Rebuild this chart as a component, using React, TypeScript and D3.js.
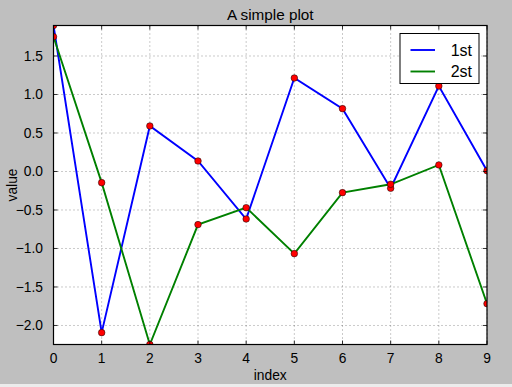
import React from "react";
import * as d3 from "d3";

const indices = [0, 1, 2, 3, 4, 5, 6, 7, 8, 9];
const series1 = [1.896, -2.093, 0.591, 0.136, -0.617, 1.214, 0.816, -0.218, 1.11, 0.01];
const series2 = [1.75, -0.145, -2.247, -0.69, -0.47, -1.067, -0.275, -0.166, 0.085, -1.717];
const seriesNames = ["1st", "2st"];
const seriesColors = ["#0000ff", "#008000"];
const xTicks = [0, 1, 2, 3, 4, 5, 6, 7, 8, 9];
const yTicks = [-2.0, -1.5, -1.0, -0.5, 0.0, 0.5, 1.0, 1.5];
const title = "A simple plot";
const xLabel = "index";
const yLabel = "value";

const W = 512;
const H = 387;
const L = 53.5, R = 487, T = 25.5, B = 344.5;
const FONT = "'Liberation Sans', Arial, Helvetica, sans-serif";

export default function App() {
  const allVals = [...series1, ...series2];
  const x = d3.scaleLinear().domain([0, 9]).range([L, R]);
  const y = d3.scaleLinear().domain([d3.min(allVals)!, d3.max(allVals)!]).range([B, T]);
  const fmt = d3.format(".1f");
  const line = d3
    .line<number>()
    .x((_, i) => x(indices[i]))
    .y((d) => y(d));
  const data = [series1, series2];
  const tickLen = 4;

  return (
    <svg
      width={W}
      height={H}
      style={{ position: "absolute", left: 0, top: 0, display: "block" }}
      fontFamily={FONT}
    >
      <rect x={0} y={0} width={W} height={H} fill="#bfbfbf" />
      <rect x={0} y={384} width={W} height={3} fill="#ececec" />
      <defs>
        <clipPath id="plotclip">
          <rect x={L} y={T} width={R - L} height={B - T} />
        </clipPath>
      </defs>
      <rect x={L} y={T} width={R - L} height={B - T} fill="#ffffff" />
      {/* grid */}
      <g stroke="#000" strokeOpacity={0.6} strokeWidth={0.7} strokeDasharray="1,3">
        {xTicks.map((t) => (
          <line key={"gx" + t} x1={x(t)} x2={x(t)} y1={T} y2={B} />
        ))}
        {yTicks.map((t) => (
          <line key={"gy" + t} x1={L} x2={R} y1={y(t)} y2={y(t)} />
        ))}
      </g>
      {/* lines and markers */}
      <g clipPath="url(#plotclip)">
        {data.map((s, k) => (
          <path key={"l" + k} d={line(s) || ""} fill="none" stroke={seriesColors[k]} strokeWidth={1.9} />
        ))}
        {data.map((s, k) =>
          s.map((v, i) => (
            <circle
              key={"m" + k + "-" + i}
              cx={x(indices[i])}
              cy={y(v)}
              r={3.3}
              fill="#ff0000"
              stroke="#000"
              strokeWidth={0.5}
            />
          ))
        )}
      </g>
      {/* ticks */}
      <g stroke="#000" strokeWidth={0.8}>
        {xTicks.map((t) => (
          <g key={"tx" + t}>
            <line x1={x(t)} x2={x(t)} y1={B} y2={B - tickLen} />
            <line x1={x(t)} x2={x(t)} y1={T} y2={T + tickLen} />
          </g>
        ))}
        {yTicks.map((t) => (
          <g key={"ty" + t}>
            <line x1={L} x2={L + tickLen} y1={y(t)} y2={y(t)} />
            <line x1={R} x2={R - tickLen} y1={y(t)} y2={y(t)} />
          </g>
        ))}
      </g>
      <rect x={L} y={T} width={R - L} height={B - T} fill="none" stroke="#000" strokeWidth={1.2} />
      {/* tick labels */}
      <g fontSize={13.8} fill="#000">
        {xTicks.map((t) => (
          <text key={"lx" + t} x={x(t)} y={362.7} textAnchor="middle">
            {String(t)}
          </text>
        ))}
        {yTicks.map((t) => (
          <text key={"ly" + t} x={43} y={y(t) + 5} textAnchor="end">
            {fmt(t)}
          </text>
        ))}
      </g>
      {/* title & labels */}
      <text x={(L + R) / 2} y={19.5} textAnchor="middle" fontSize={15.3}>
        {title}
      </text>
      <text x={(L + R) / 2} y={380} textAnchor="middle" fontSize={13.8}>
        {xLabel}
      </text>
      <text
        transform={`translate(16.5,${(T + B) / 2}) rotate(-90)`}
        textAnchor="middle"
        fontSize={13.8}
      >
        {yLabel}
      </text>
      {/* legend */}
      <rect x={400} y={33.5} width={79} height={50} fill="#fff" stroke="#000" strokeWidth={1} />
      {seriesNames.map((n, k) => (
        <g key={"lg" + k}>
          <line
            x1={410.5}
            x2={435}
            y1={50 + k * 21.5}
            y2={50 + k * 21.5}
            stroke={seriesColors[k]}
            strokeWidth={1.9}
          />
          <text x={472} y={50 + k * 21.5 + 5.8} textAnchor="end" fontSize={16}>
            {n}
          </text>
        </g>
      ))}
    </svg>
  );
}
